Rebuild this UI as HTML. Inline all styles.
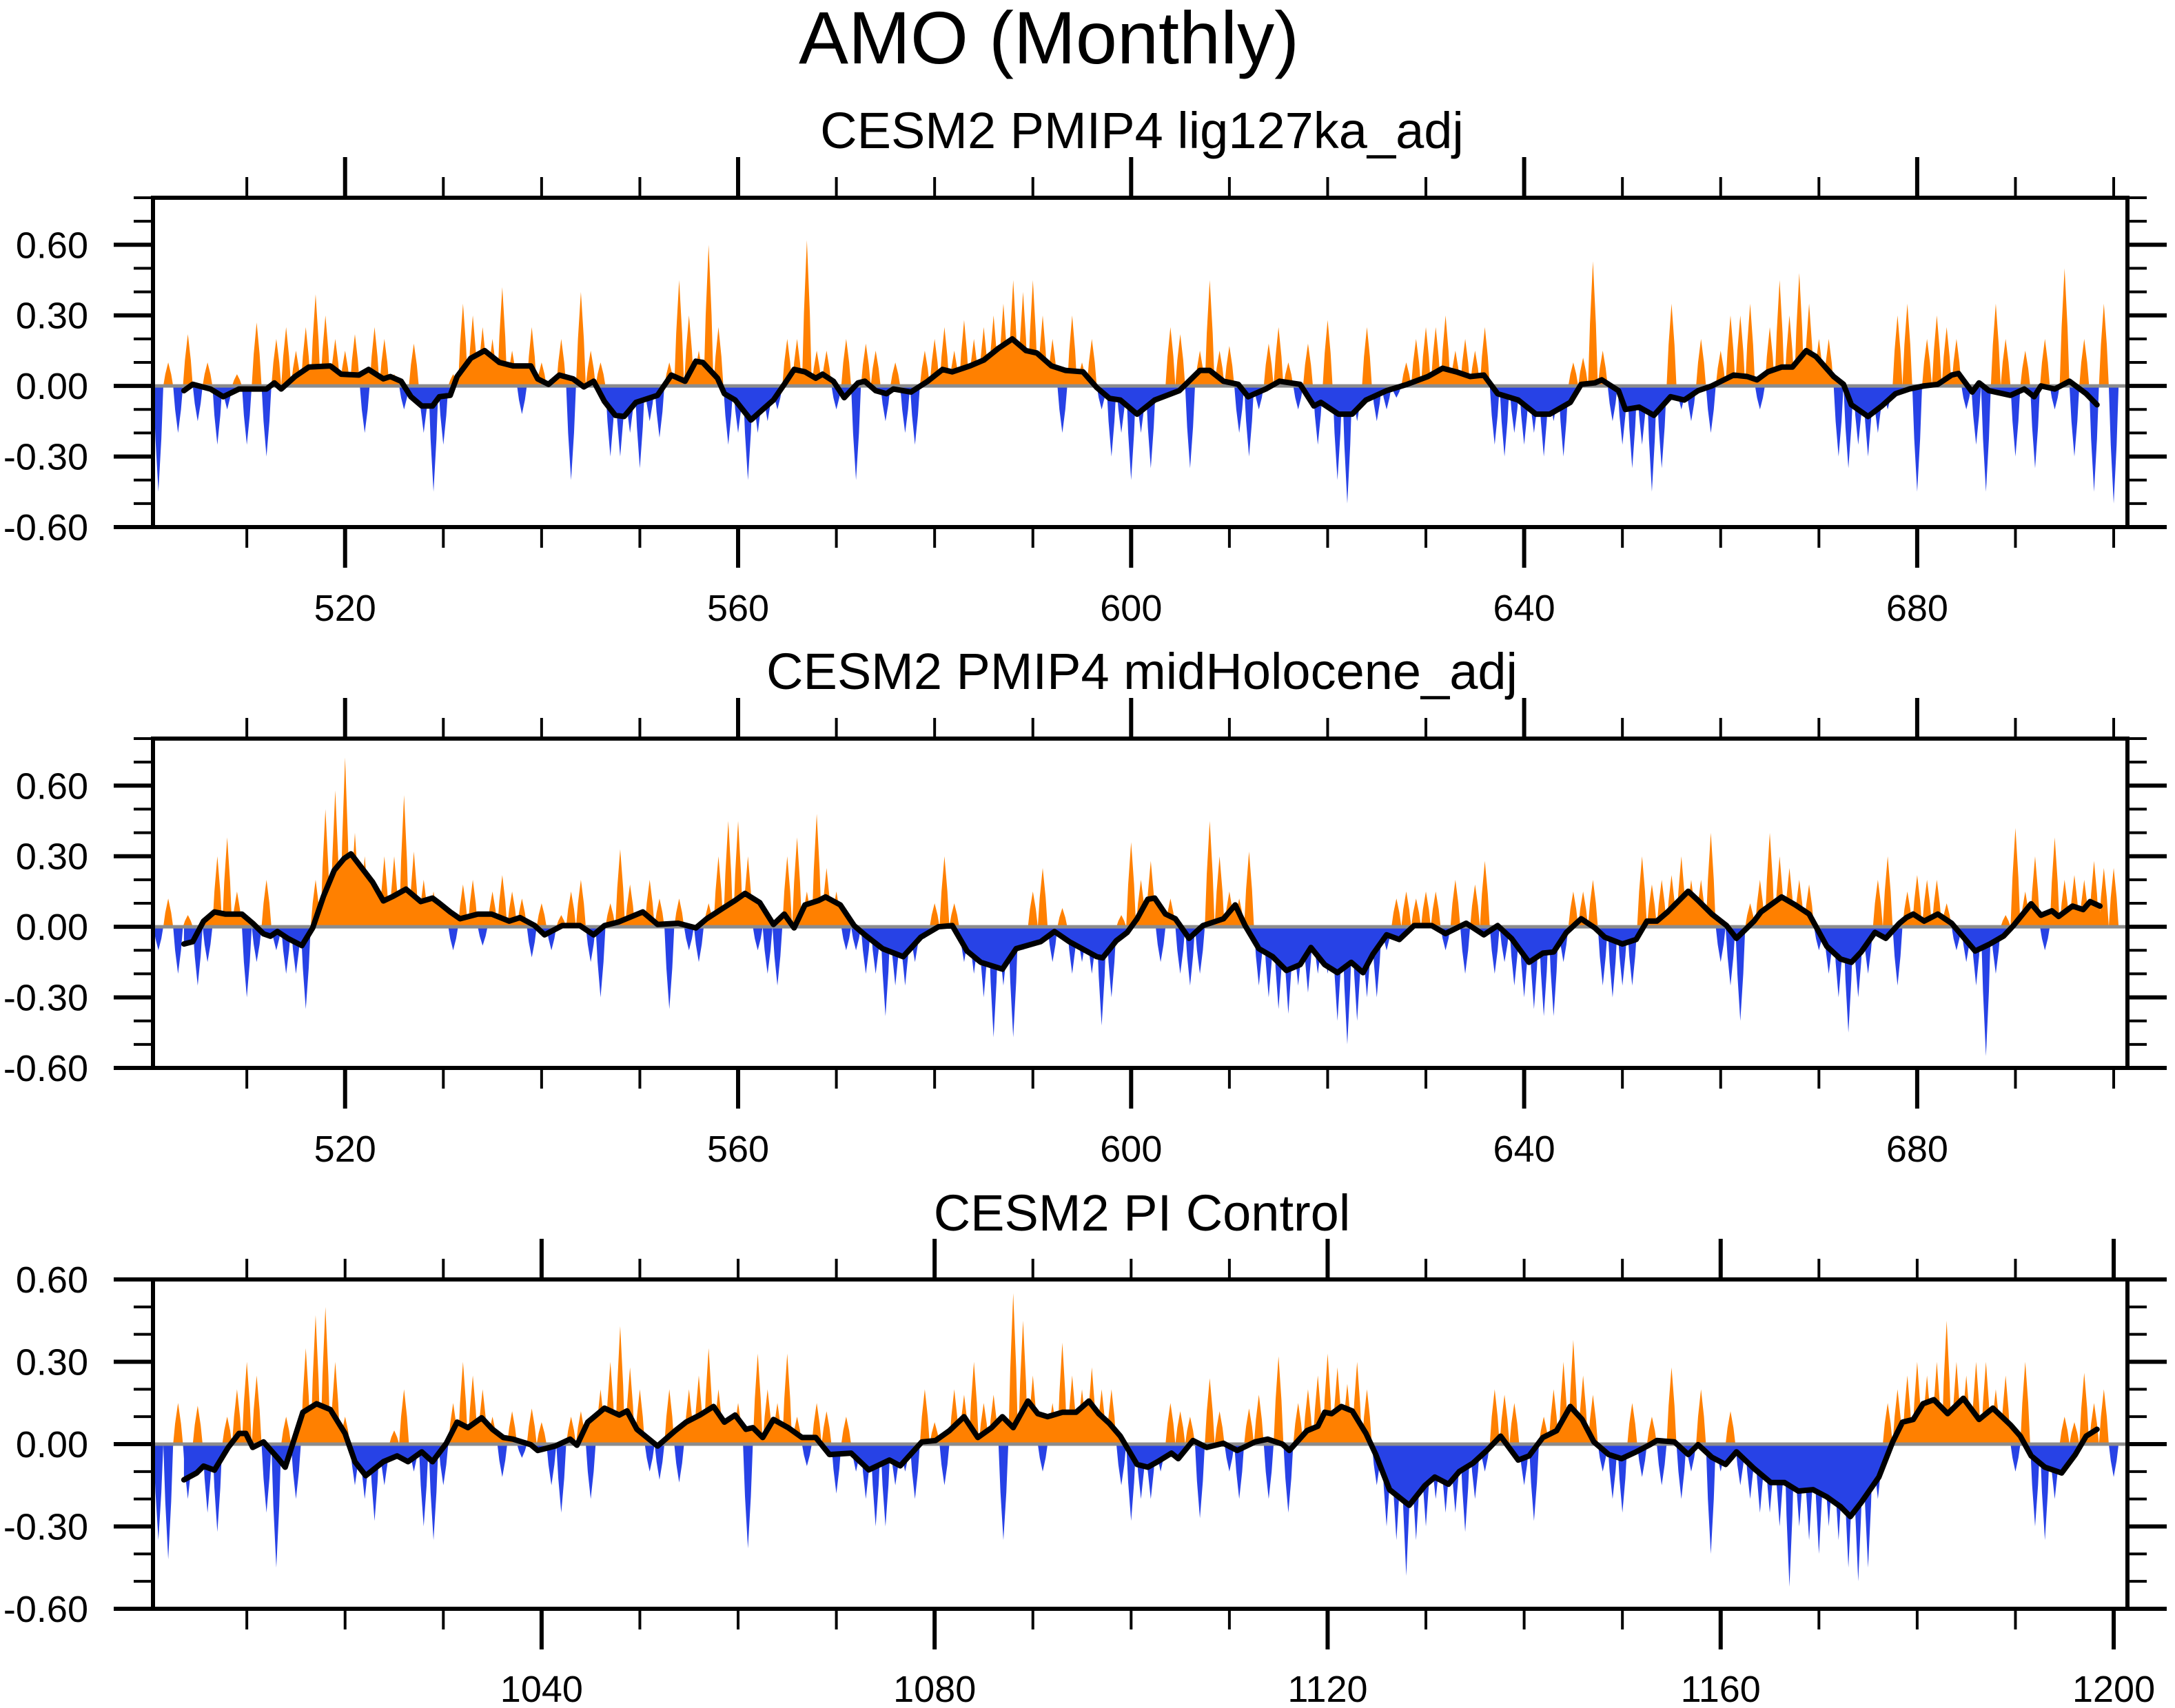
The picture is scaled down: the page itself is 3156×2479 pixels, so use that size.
<!DOCTYPE html>
<html><head><meta charset="utf-8"><style>
html,body{margin:0;padding:0;background:#fff;}
svg{display:block;font-family:"Liberation Sans",Arial,sans-serif;}
</style></head><body>
<svg id="chart" width="3156" height="2479" viewBox="0 0 3156 2479" xmlns="http://www.w3.org/2000/svg">
<rect x="0" y="0" width="3156" height="2479" fill="#fff"/>
<text x="1522" y="92" font-size="108" text-anchor="middle">AMO (Monthly)</text>
</svg>
<script>
const p1Bars=[-0.45,0.1,-0.2,0.22,-0.15,0.1,-0.25,-0.1,0.05,-0.25,
0.27,-0.3,0.2,0.25,0.15,0.25,0.39,0.3,0.2,0.15,
0.22,-0.2,0.25,0.2,0.05,-0.1,0.18,-0.2,-0.45,-0.25,
0.05,0.35,0.3,0.25,0.2,0.42,0.15,-0.12,0.25,0.1,
0.02,0.2,-0.4,0.4,0.15,0.1,-0.3,-0.3,-0.2,-0.35,
-0.15,-0.22,0.1,0.45,0.3,0.15,0.6,0.25,-0.25,-0.2,
-0.4,-0.2,-0.15,-0.1,0.2,0.2,0.62,0.15,0.15,-0.1,
0.2,-0.4,0.18,0.15,-0.15,0.1,-0.2,-0.25,0.15,0.2,
0.25,0.15,0.28,0.2,0.25,0.3,0.35,0.45,0.4,0.45,
0.3,0.2,-0.2,0.3,0.1,0.2,-0.1,-0.3,-0.2,-0.4,
-0.2,-0.35,0.0,0.25,0.22,-0.35,0.15,0.45,0.15,0.17,
-0.2,-0.3,-0.1,0.18,0.25,0.1,-0.1,0.18,-0.25,0.28,
-0.4,-0.5,-0.15,0.25,-0.15,-0.1,-0.05,0.1,0.2,0.25,
0.25,0.3,0.15,0.2,0.15,0.25,-0.25,-0.3,-0.2,-0.25,
-0.2,-0.3,-0.15,-0.3,0.1,0.12,0.53,0.15,-0.15,-0.25,
-0.35,-0.25,-0.45,-0.35,0.35,-0.1,-0.15,0.2,-0.2,0.15,
0.3,0.3,0.35,-0.1,0.25,0.45,0.3,0.48,0.35,0.2,
0.2,-0.3,-0.35,-0.25,-0.3,-0.2,-0.1,0.3,0.35,-0.45,
0.2,0.3,0.25,0.2,-0.1,-0.25,-0.45,0.35,0.2,-0.3,
0.15,-0.35,0.2,-0.1,0.5,-0.3,0.2,-0.45,0.35,-0.5];
const p2Bars=[-0.1,0.12,-0.2,0.05,-0.25,-0.15,0.3,0.38,0.15,-0.3,
-0.15,0.2,-0.1,-0.2,-0.2,-0.35,0.2,0.5,0.58,0.72,
0.4,0.3,0.2,0.3,0.3,0.56,0.32,0.2,0.15,0.05,
-0.1,0.18,0.2,-0.08,0.15,0.22,0.15,0.12,-0.13,0.1,
-0.1,0.05,0.15,0.2,-0.15,-0.3,0.1,0.33,0.18,0.05,
0.2,0.12,-0.35,0.12,-0.1,-0.15,0.1,0.3,0.45,0.45,
0.3,-0.1,-0.2,-0.25,0.3,0.38,0.15,0.48,0.25,0.15,
-0.1,-0.1,-0.2,-0.2,-0.38,-0.25,-0.25,-0.15,-0.05,0.1,
0.3,0.1,-0.15,-0.2,-0.3,-0.47,-0.25,-0.47,-0.1,0.15,
0.25,-0.15,0.08,-0.2,-0.15,-0.2,-0.42,-0.3,0.05,0.36,
0.2,0.28,-0.15,0.12,-0.2,-0.25,-0.2,0.45,0.3,0.15,
0.12,0.32,-0.25,-0.3,-0.35,-0.37,-0.25,-0.28,-0.2,-0.2,
-0.4,-0.5,-0.4,-0.3,-0.3,-0.1,0.12,0.15,0.12,0.15,
0.15,-0.1,0.2,-0.2,0.18,0.28,-0.2,-0.15,-0.25,-0.3,
-0.35,-0.38,-0.38,-0.15,0.15,0.15,0.2,-0.25,-0.3,-0.25,
-0.25,0.3,0.18,0.2,0.22,0.3,0.2,0.2,0.4,-0.15,
-0.25,-0.4,0.1,0.2,0.4,0.3,0.25,0.2,0.18,-0.1,
-0.2,-0.3,-0.45,-0.3,-0.2,0.2,0.3,-0.25,0.15,0.22,
0.2,0.2,0.1,-0.1,-0.15,-0.25,-0.55,-0.2,0.05,0.42,
0.15,0.3,-0.1,0.38,0.2,0.22,0.2,0.28,0.25,0.25];
const p3Bars=[-0.35,-0.42,0.15,-0.2,0.14,-0.25,-0.32,0.1,0.2,0.3,
0.25,-0.25,-0.45,0.1,-0.2,0.35,0.47,0.5,0.3,0.1,
-0.15,-0.2,-0.28,-0.15,0.05,0.2,-0.1,-0.3,-0.35,-0.15,
0.15,0.3,0.25,0.2,0.1,-0.12,0.12,-0.05,0.13,0.08,
-0.15,-0.25,0.1,0.12,-0.2,0.2,0.3,0.43,0.28,0.2,
-0.1,-0.13,0.2,-0.14,0.2,0.25,0.35,0.2,0.1,0.15,
-0.38,0.33,0.2,0.15,0.33,0.1,-0.08,0.15,0.12,-0.18,
0.1,-0.1,-0.2,-0.3,-0.3,-0.15,-0.1,-0.2,0.2,0.08,
-0.15,0.2,0.18,0.3,0.15,0.18,-0.35,0.55,0.45,0.25,
-0.1,0.15,0.37,0.25,0.2,0.28,0.2,0.2,-0.15,-0.28,
-0.2,-0.2,-0.1,0.15,0.12,0.1,-0.27,0.24,0.12,-0.1,
-0.2,0.13,0.18,-0.2,0.32,-0.25,0.15,0.2,0.25,0.33,
0.28,0.22,0.3,0.2,-0.15,-0.3,-0.35,-0.48,-0.35,-0.3,
-0.2,-0.25,-0.25,-0.32,-0.2,-0.1,0.2,0.18,0.15,-0.15,
-0.28,0.1,0.2,0.3,0.38,0.25,0.18,-0.1,-0.2,-0.25,
0.15,-0.12,0.1,-0.15,0.28,-0.2,-0.1,0.2,-0.4,-0.1,
0.12,-0.15,-0.2,-0.25,-0.25,-0.3,-0.52,-0.3,-0.35,-0.4,
-0.3,-0.35,-0.45,-0.5,-0.45,-0.2,0.15,0.2,0.25,0.3,
0.25,0.3,0.45,0.3,0.25,0.3,0.3,0.2,0.25,-0.1,
0.3,-0.3,-0.35,-0.2,0.1,0.08,0.26,0.15,0.2,-0.12];

const p1LineYears=[503.6,504.5,506.3,507.6,509.2,512,512.8,513.5,514.9,516.3,518.5,519.6,521.4,522.4,523.9,524.6,525.7,526.7,527.8,528.9,529.6,530.7,531.4,532.8,534.2,535.7,537.1,538.9,539.6,540.7,541.8,543.2,544.3,545.3,546.4,547.5,548.4,549.6,551.8,553.2,554.6,555.7,556.4,557.9,558.6,559.7,561.3,562.5,563.6,564.7,565.7,566.8,567.9,568.6,569.7,570.8,572.2,572.9,574,575.1,575.8,577.6,579.3,580.8,581.8,583.6,585,586.5,587.9,589.3,590.4,591.9,593.3,595.1,596.5,597.8,598.9,600.6,602.4,604.9,607,608,609.4,610.9,611.9,613.7,615.1,617.2,618.6,619.3,621.1,622.5,623.9,626,628.1,630.2,631.7,633.1,634.5,635.9,637.3,639.4,641.2,642.6,644.7,645.8,647.2,647.9,649.6,650.3,651.7,653.2,654.9,656.3,657.7,659.1,661.3,662.7,663.7,664.8,666.2,667.3,668.7,669.7,671.5,672.5,673.3,675,676.4,677.8,679.2,680.7,682.1,683.5,684.2,685.6,686.3,687.3,689.5,690.9,691.9,692.6,694,695.5,697.2,698.3];
const p1LineVals=[-0.02,0.007,-0.013,-0.046,-0.013,-0.013,0.013,-0.013,0.04,0.08,0.085,0.05,0.046,0.07,0.03,0.04,0.02,-0.046,-0.085,-0.085,-0.046,-0.04,0.04,0.118,0.15,0.1,0.085,0.085,0.03,0.007,0.046,0.03,-0.004,0.02,-0.066,-0.125,-0.13,-0.07,-0.04,0.046,0.02,0.105,0.1,0.033,-0.033,-0.06,-0.145,-0.1,-0.06,0.007,0.07,0.06,0.033,0.05,0.02,-0.05,0.013,0.02,-0.02,-0.033,-0.013,-0.026,0.02,0.07,0.06,0.085,0.11,0.16,0.2,0.15,0.14,0.085,0.066,0.06,-0.007,-0.053,-0.06,-0.12,-0.06,-0.02,0.066,0.066,0.02,0.007,-0.046,-0.013,0.02,0.007,-0.085,-0.07,-0.12,-0.12,-0.06,-0.02,0.007,0.04,0.075,0.06,0.04,0.046,-0.033,-0.06,-0.12,-0.12,-0.07,0.007,0.013,0.026,-0.02,-0.1,-0.09,-0.125,-0.046,-0.06,-0.02,0,0.046,0.04,0.026,0.06,0.08,0.08,0.15,0.125,0.04,0.007,-0.08,-0.13,-0.085,-0.033,-0.013,0,0.007,0.046,0.053,-0.026,0.013,-0.02,-0.04,-0.013,-0.046,0,-0.013,0.02,-0.033,-0.08];
const p2LineYears=[503.6,504.5,505.6,506.7,507.8,509.5,510.6,511.7,512.4,513.1,514.2,515.6,516.7,517.8,518.9,519.9,520.6,521.7,522.8,523.9,524.9,526.2,527.7,528.9,529.6,530.7,531.7,533.5,534.9,536.7,537.8,539.3,540.3,542.1,543.9,545.3,546.4,547.8,550.3,551.8,553.9,555.7,556.8,558.6,559.7,560.7,562.2,563.6,564.7,565.7,566.8,568.2,568.9,570.4,571.8,572.9,574.7,576.8,578.6,580.4,581.8,583.3,584.7,586.9,588.3,590.8,592.2,593.7,596.5,597.1,598.5,599.6,600.6,601.7,602.4,603.5,604.5,605.9,607.3,609.4,610.6,611.6,613,614.4,615.8,617.2,618.3,619.7,621,622.4,623.6,624.6,626,627.3,628.8,630.6,632,634.1,635.9,637.3,638.7,640.5,641.9,643,644.3,645.8,647.2,648.2,650,651.4,652.5,653.5,654.6,656.7,657.7,659.1,660.6,661.6,663.4,664.1,666.2,667.6,669,670.8,672.2,673.3,674.3,675.7,676.8,678.2,678.9,679.6,680.7,682.1,683.5,684.5,685.9,687.4,688.8,689.8,691.6,692.6,693.7,694.4,695.8,696.9,697.6,698.6];
const p2LineVals=[-0.073,-0.063,0.024,0.063,0.054,0.054,0.015,-0.03,-0.04,-0.02,-0.05,-0.08,-0.005,0.13,0.24,0.29,0.31,0.25,0.19,0.11,0.13,0.16,0.107,0.122,0.1,0.063,0.034,0.054,0.054,0.024,0.039,0.005,-0.034,0.005,0.005,-0.034,0.005,0.02,0.063,0.01,0.015,-0.005,0.034,0.083,0.112,0.142,0.103,0.01,0.054,-0.005,0.093,0.112,0.127,0.093,0.005,-0.034,-0.093,-0.127,-0.044,0,0.005,-0.103,-0.151,-0.18,-0.093,-0.063,-0.02,-0.063,-0.127,-0.132,-0.059,-0.024,0.034,0.117,0.122,0.054,0.034,-0.049,0.005,0.034,0.093,0.005,-0.093,-0.127,-0.186,-0.161,-0.088,-0.161,-0.195,-0.151,-0.195,-0.117,-0.034,-0.054,0.005,0.005,-0.029,0.015,-0.034,0.005,-0.049,-0.151,-0.112,-0.107,-0.024,0.034,-0.005,-0.044,-0.073,-0.054,0.024,0.024,0.063,0.151,0.112,0.054,0.005,-0.049,0.024,0.063,0.127,0.093,0.054,-0.083,-0.137,-0.151,-0.107,-0.024,-0.049,0.015,0.039,0.054,0.024,0.054,0.015,-0.034,-0.103,-0.073,-0.039,0.005,0.098,0.049,0.068,0.044,0.088,0.073,0.107,0.088];
const p3LineYears=[1003.6,1004.9,1005.6,1006.7,1008.1,1009.2,1009.9,1010.6,1011.7,1013.2,1013.9,1015.7,1017.1,1018.5,1020,1021,1022.1,1023.9,1025.3,1026.4,1027.8,1028.9,1030.3,1031.4,1032.5,1033.9,1035,1036.1,1037.1,1038.9,1039.6,1041.4,1042.9,1043.6,1044.7,1046.4,1047.9,1048.7,1049.7,1051.8,1053.6,1054.7,1056.1,1057.5,1058.6,1059.7,1060.8,1061.5,1062.5,1063.6,1065.1,1066.5,1067.9,1069.3,1071.5,1073.3,1075.4,1076.5,1078.7,1080.1,1081.5,1083,1084.4,1085.8,1086.9,1088,1089.5,1090.5,1091.5,1093,1094.4,1095.7,1096.7,1097.8,1098.9,1100.6,1101.7,1102.7,1104.1,1104.8,1106.3,1107.7,1109.4,1110.8,1112.6,1113.9,1115.4,1116.1,1117.9,1119,1119.7,1120.4,1121.4,1122.5,1123.9,1124.9,1126.3,1128.3,1129.9,1130.9,1132.3,1133.4,1134.8,1136.2,1137.6,1139.4,1140.5,1141.9,1143.3,1144.7,1145.9,1147.1,1148.6,1149.9,1151.4,1152.8,1153.5,1155.3,1156.7,1157.7,1159.1,1160.5,1161.6,1163.4,1165.1,1166.5,1167.9,1169.4,1170.8,1172.2,1173.2,1174.3,1176.1,1177.5,1178.5,1179.6,1180.6,1181.7,1183.1,1184.7,1186.3,1187.7,1189.5,1190.5,1191.6,1193,1194.7,1196.1,1197.2,1198.3];
const p3LineVals=[-0.13,-0.105,-0.08,-0.095,-0.012,0.039,0.039,-0.012,0.008,-0.053,-0.084,0.116,0.147,0.126,0.039,-0.064,-0.115,-0.064,-0.043,-0.064,-0.028,-0.064,0.003,0.08,0.06,0.096,0.054,0.024,0.018,-0.002,-0.023,-0.007,0.018,-0.004,0.08,0.131,0.106,0.121,0.054,-0.007,0.049,0.08,0.106,0.137,0.08,0.106,0.054,0.06,0.024,0.09,0.06,0.024,0.024,-0.038,-0.033,-0.094,-0.058,-0.079,0.008,0.013,0.049,0.1,0.024,0.06,0.1,0.06,0.157,0.111,0.1,0.116,0.116,0.157,0.111,0.075,0.029,-0.074,-0.084,-0.064,-0.033,-0.053,0.013,-0.012,0.003,-0.023,0.008,0.018,0,-0.023,0.049,0.065,0.116,0.111,0.137,0.121,0.039,-0.038,-0.166,-0.223,-0.151,-0.12,-0.146,-0.1,-0.069,-0.023,0.029,-0.058,-0.043,0.024,0.049,0.137,0.09,0.008,-0.038,-0.053,-0.028,-0.002,0.013,0.008,-0.038,-0.002,-0.048,-0.074,-0.028,-0.089,-0.14,-0.14,-0.171,-0.166,-0.192,-0.228,-0.264,-0.213,-0.12,0.008,0.08,0.09,0.147,0.162,0.111,0.167,0.09,0.131,0.07,0.029,-0.043,-0.084,-0.105,-0.038,0.029,0.054];
const yTickLabels=["-0.60","-0.30","0.00","0.30","0.60"];
const yTickVals=[-0.6,-0.3,0,0.3,0.6];
const p1XTicks=[520,560,600,640,680];
const p3XTicks=[1040,1080,1120,1160,1200];

const NS="http://www.w3.org/2000/svg";
const svg=document.getElementById('chart');
function mk(tag,attrs,parent){const e=document.createElementNS(NS,tag);for(const k in attrs)e.setAttribute(k,attrs[k]);(parent||svg).appendChild(e);return e;}
const L=222,R=3087,PXY=(R-L)/200.95;
const panels=[
 {name:'lig127ka-panel',title:'CESM2 PMIP4 lig127ka_adj',top:287,bottom:765,ymin:-0.6,ymax:0.8,off:0,bars:p1Bars,barStart:501,ly:p1LineYears,lv:p1LineVals,xt:p1XTicks,titleY:215,labY:901},
 {name:'midholocene-panel',title:'CESM2 PMIP4 midHolocene_adj',top:1072,bottom:1550,ymin:-0.6,ymax:0.8,off:0,bars:p2Bars,barStart:501,ly:p2LineYears,lv:p2LineVals,xt:p1XTicks,titleY:1000,labY:1686},
 {name:'picontrol-panel',title:'CESM2 PI Control',top:1857,bottom:2335,ymin:-0.6,ymax:0.6,off:500,bars:p3Bars,barStart:1001,ly:p3LineYears,lv:p3LineVals,xt:p3XTicks,titleY:1786,labY:2470}
];
panels.forEach((p,pi)=>{
 const g=mk('g',{});
 
 
 const xs=yr=>L+(yr-(p.off+500.45))*PXY;
 const ys=v=>p.bottom-(v-p.ymin)/(p.ymax-p.ymin)*(p.bottom-p.top);
 const y0=ys(0);
 const cid='clip'+pi;
 const defs=mk('defs',{},g);
 const cpPos=mk('clipPath',{id:cid+'p'},defs);mk('rect',{x:L,y:p.top,width:R-L,height:y0-p.top},cpPos);
 const cpNeg=mk('clipPath',{id:cid+'n'},defs);mk('rect',{x:L,y:y0,width:R-L,height:p.bottom-y0},cpNeg);
 let dp='',dn='';
 p.bars.forEach((v,i)=>{const yr=p.barStart+i;const a=xs(yr-0.5),b=xs(yr-0.3),c=xs(yr),d=xs(yr+0.3),e=xs(yr+0.5);
  const s=`M${a},${y0}L${b},${ys(v*0.5)}L${c},${ys(v)}L${d},${ys(v*0.5)}L${e},${y0}Z`;
  if(v>=0)dp+=s;else dn+=s;});
 const bp=mk('path',{d:dp,fill:'#ff8000'},g);
 
 
 const bn=mk('path',{d:dn,fill:'#2742e6'},g);
 
 
 let ad=`M${xs(p.ly[0])},${y0}`;p.ly.forEach((yr,i)=>{ad+=`L${xs(yr)},${ys(p.lv[i])}`;});ad+=`L${xs(p.ly[p.ly.length-1])},${y0}Z`;
 const ap=mk('path',{d:ad,fill:'#ff8000','clip-path':`url(#${cid}p)`},g);
 
 
 const an=mk('path',{d:ad,fill:'#2742e6','clip-path':`url(#${cid}n)`},g);
 
 
 const zl=mk('line',{x1:L,x2:R,y1:y0,y2:y0,stroke:'#8c8c8c','stroke-width':5},g);
 
 
 const pts=p.ly.map((yr,i)=>`${xs(yr).toFixed(1)},${ys(p.lv[i]).toFixed(1)}`).join(' ');
 const ln=mk('polyline',{points:pts,fill:'none',stroke:'#000','stroke-width':8,'stroke-linejoin':'round','stroke-linecap':'round'},g);
 
 
 const fr=mk('rect',{x:L,y:p.top,width:R-L,height:p.bottom-p.top,fill:'none',stroke:'#000','stroke-width':6},g);
 
 
 let td='',tm='';
 for(let yr=p.off+510;yr<=p.off+700;yr+=10){const x=xs(yr);const major=p.xt.includes(yr);
  if(major)td+=`M${x},${p.top-59}V${p.top}M${x},${p.bottom}V${p.bottom+59}`;else tm+=`M${x},${p.top-30}V${p.top}M${x},${p.bottom}V${p.bottom+30}`;}
 for(let k=Math.round(p.ymin*10);k<=Math.round(p.ymax*10);k++){const v=k/10,y=ys(v);const major=(k%3===0)&&Math.abs(v)<=0.6;
  if(major)td+=`M${L-57},${y}H${L}M${R},${y}H${R+57}`;else tm+=`M${L-28},${y}H${L}M${R},${y}H${R+28}`;}
 const t1=mk('path',{d:td,stroke:'#000','stroke-width':6,fill:'none'},g);
 
 
 const t2=mk('path',{d:tm,stroke:'#000','stroke-width':4,fill:'none'},g);
 
 
 yTickVals.forEach((v,i)=>{const t=mk('text',{x:128,y:ys(v)+19,'font-size':54,'text-anchor':'end'},g);t.textContent=yTickLabels[i];
  
  });
 p.xt.forEach(yr=>{const t=mk('text',{x:xs(yr),y:p.labY,'font-size':54,'text-anchor':'middle'},g);t.textContent=String(yr);
  
  });
 const tt=mk('text',{x:1657,y:p.titleY,'font-size':74,'text-anchor':'middle'},g);tt.textContent=p.title;
 
 
});
</script>
</body></html>
